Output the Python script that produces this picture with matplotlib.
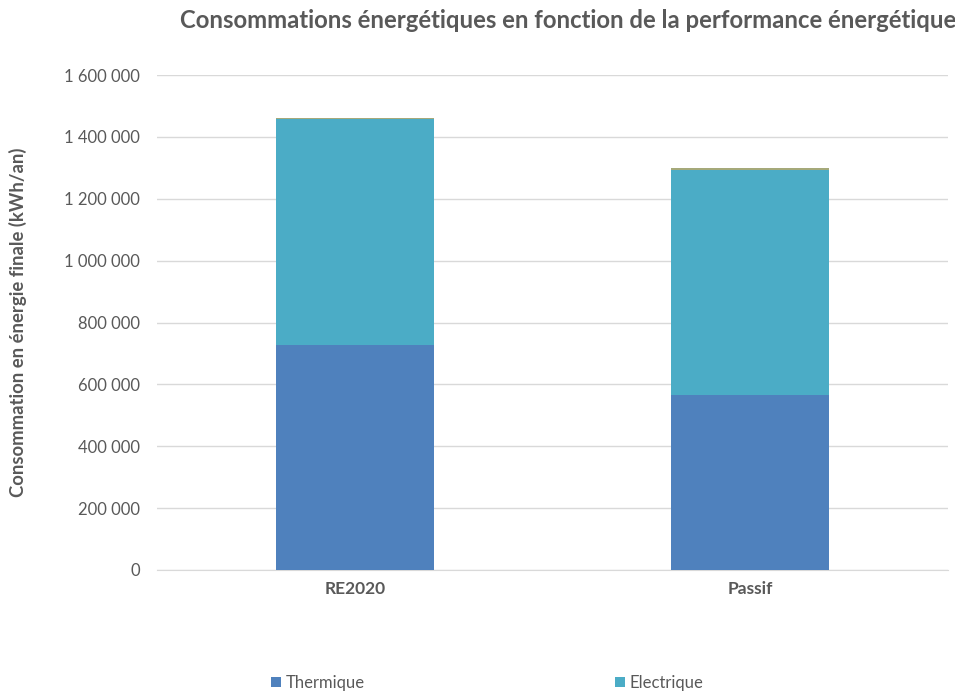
import matplotlib
matplotlib.use("Agg")
import matplotlib.pyplot as plt
from matplotlib.ticker import FuncFormatter

categories = ["RE2020", "Passif"]
thermique = [728000, 566000]
electrique = [730000, 728000]
autre = [4500, 4500]

plt.rcParams['font.family'] = ['Lato', 'DejaVu Sans']
grey = "#595959"

fig = plt.figure(figsize=(9.55, 6.93), dpi=100)
ax = fig.add_axes([157/955, 1-570/693, (948-157)/955, (570-75)/693])

x = range(len(categories))
width = 0.4
ax.bar(x, thermique, width, color="#4F81BD", label="Thermique", zorder=3)
ax.bar(x, electrique, width, bottom=thermique, color="#4BACC6", label="Electrique", zorder=3)
bottom2 = [a + b for a, b in zip(thermique, electrique)]
ax.bar(x, autre, width, bottom=bottom2, color="#A5A97A", zorder=3)

ax.set_xlim(-0.5, 1.5)
ax.set_ylim(0, 1600000)
ax.set_yticks(range(0, 1600001, 200000))
ax.yaxis.set_major_formatter(FuncFormatter(lambda v, p: "{:,.0f}".format(v).replace(",", " ")))
ax.set_xticks(list(x))
ax.set_xticklabels(categories, fontsize=12.5, fontweight="bold", color=grey)
ax.tick_params(axis="y", length=0, labelsize=12, labelcolor=grey, pad=12)
ax.tick_params(axis="x", length=0, pad=8)
ax.grid(axis="y", color="#d9d9d9", linewidth=1, zorder=0)
for s in ["top", "right", "left"]:
    ax.spines[s].set_visible(False)
ax.spines["bottom"].set_color("#d9d9d9")

fig.text(18/955, 1-322/693, "Consommation en énergie finale (kWh/an)", rotation=90,
         ha="center", va="center", fontsize=13.3, fontweight="bold", color=grey)
fig.text(568/955, 1-20/693, "Consommations énergétiques en fonction de la performance énergétique",
         ha="center", va="center", fontsize=17.2, fontweight="bold", color=grey)

handles, labels = ax.get_legend_handles_labels()
fig.legend(handles, labels, loc="center", bbox_to_anchor=(487/955, 1-683/693), ncol=2, frameon=False,
           fontsize=12, labelcolor=grey, handlelength=0.6, handleheight=0.6, handletextpad=0.3, columnspacing=15)

fig.savefig("out.png", dpi=100)
